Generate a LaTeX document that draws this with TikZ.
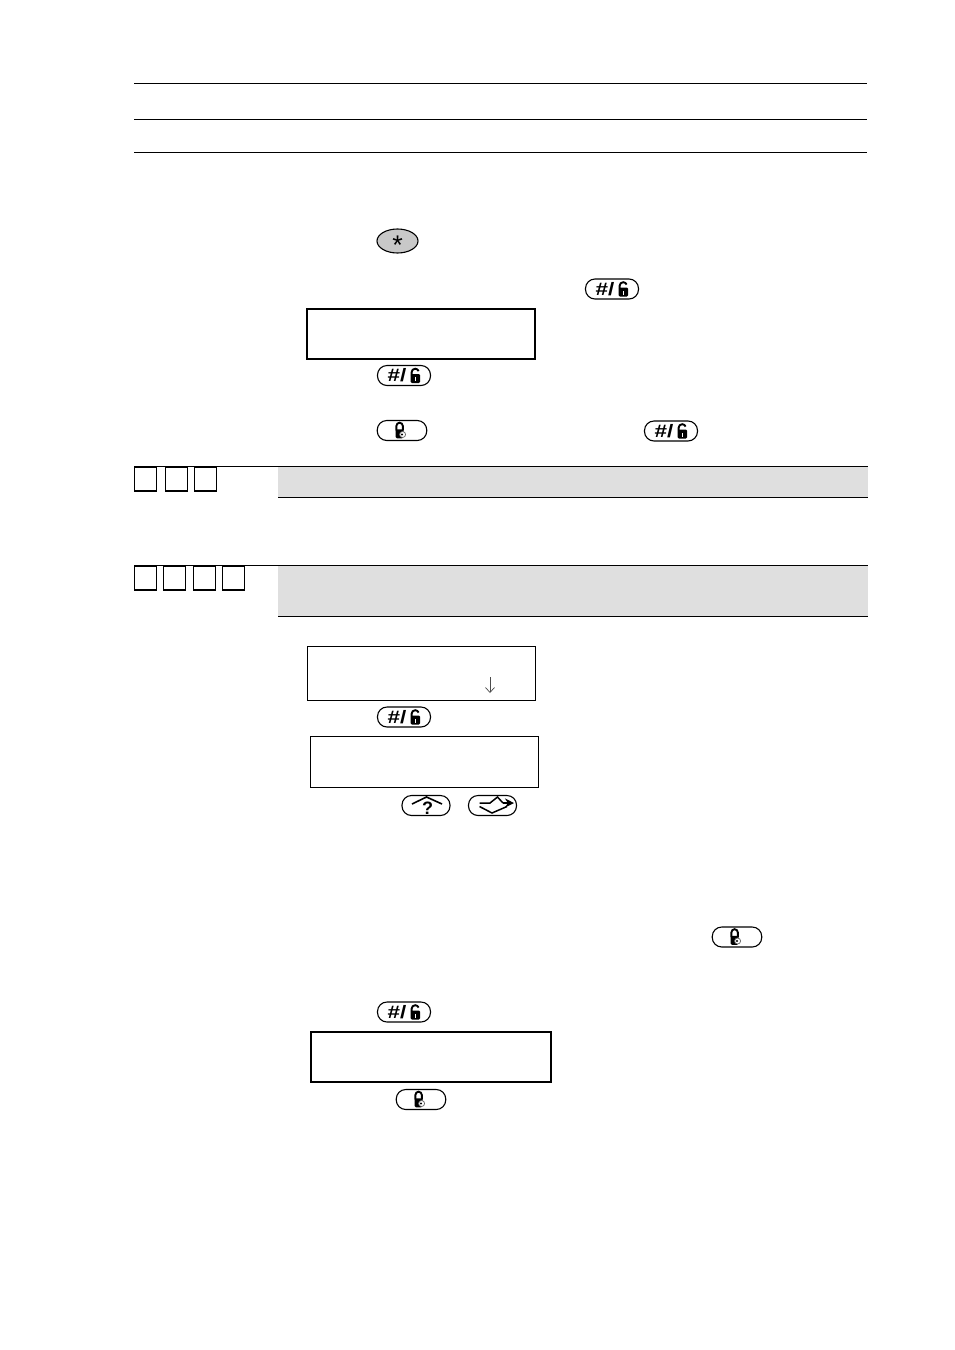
\documentclass[tikz,border=0pt]{standalone}
\usepackage{fontspec}
\setmainfont{Liberation Sans}
\usetikzlibrary{shapes.geometric,arrows.meta}
\definecolor{band}{HTML}{DFDFDF}
\definecolor{starfill}{HTML}{C8C8C8}
\tikzset{
  rulethin/.style={line width=0.9pt,black},
  keycap/.style={draw=black,line width=1.1pt,fill=white,rounded corners=9.5pt,minimum height=20pt,inner sep=0pt,outer sep=0pt},
  lcdthin/.style={draw=black,line width=1.1pt,fill=white,inner sep=0pt,outer sep=0pt,anchor=north west},
  lcdthick/.style={draw=black,line width=2pt,fill=white,inner sep=0pt,outer sep=0pt,anchor=north west},
  tick/.style={draw=black,line width=1.1pt,minimum width=22pt,minimum height=24pt,inner sep=0pt,outer sep=0pt,anchor=north west},
  bandbox/.style={fill=band,inner sep=0pt,outer sep=0pt,anchor=north west,minimum width=590pt},
}
% open-lock key: name, cx, cy
\newcommand{\hashkey}[3]{%
  \node[keycap,minimum width=53pt] (#1) at (#2,#3) {};
  \node[font=\bfseries\fontsize{18}{18}\selectfont,inner sep=0pt] (#1t) at ([xshift=-7pt,yshift=0pt]#1.center) {\scalebox{1.25}[1]{\#/}};
  \fill[black,rounded corners=1.2pt] ([xshift=6.7pt,yshift=-7.5pt]#1.center) rectangle ([xshift=16pt,yshift=1.5pt]#1.center);
  \draw[black,line width=1.9pt] ([xshift=7.6pt,yshift=0.5pt]#1.center) -- ([xshift=7.6pt,yshift=3.2pt]#1.center) arc[start angle=180,end angle=20,radius=3.6pt];
  \fill[white] ([xshift=10.5pt,yshift=-5.5pt]#1.center) rectangle ([xshift=12.2pt,yshift=-1.8pt]#1.center);
}
% closed-lock key: name, cx, cy
\newcommand{\lockkey}[3]{%
  \node[keycap,minimum width=49.5pt] (#1) at (#2,#3) {};
  \fill[black,rounded corners=1.5pt] ([xshift=-6.5pt,yshift=-7.8pt]#1.center) rectangle ([xshift=1.5pt,yshift=1.2pt]#1.center);
  \draw[black,line width=1.9pt] ([xshift=-5.6pt,yshift=0pt]#1.center) -- ([xshift=-5.6pt,yshift=4.6pt]#1.center) arc[start angle=180,end angle=0,radius=3.2pt] -- ([xshift=0.8pt,yshift=0pt]#1.center);
  \draw[black!60,line width=0.7pt,fill=white] ([xshift=0.6pt,yshift=-4pt]#1.center) circle[radius=3pt];
  \fill[black] ([xshift=0pt,yshift=-4pt]#1.center) circle[radius=1.2pt];
}
\begin{document}
\begin{tikzpicture}[x=1pt,y=-1pt]
\useasboundingbox[fill=white] (0,0) rectangle (954,1350);
% top rules
\coordinate (ra1) at (134,83.5);  \coordinate (ra2) at (867,83.5);
\coordinate (rb1) at (134,119.5); \coordinate (rb2) at (867,119.5);
\coordinate (rc1) at (134,152.5); \coordinate (rc2) at (867,152.5);
\draw[rulethin] (ra1) -- (ra2);
\draw[rulethin] (rb1) -- (rb2);
\draw[rulethin] (rc1) -- (rc2);
% star key
\node[draw=black,line width=1.1pt,fill=starfill,ellipse,minimum width=41pt,minimum height=24pt,inner sep=0pt] (star) at (397.5,241) {};
\node[font=\fontsize{27}{27}\selectfont,inner sep=0pt] (startxt) at (397.5,245) {*};
\hashkey{ha}{612}{289}
\node[lcdthick,minimum width=228pt,minimum height=50pt] (lcda) at (307,308.5) {};
\hashkey{hb}{404}{375.5}
\lockkey{la}{402}{430.5}
\hashkey{hc}{671}{431}
% band 1
\node[bandbox,minimum height=30pt] (banda) at (278,467) {};
\coordinate (s1l) at (134,466.5); \coordinate (s1r) at (868,466.5);
\draw[rulethin] (s1l) -- (s1r);
\coordinate (u1l) at (278,497.5); \coordinate (u1r) at (868,497.5);
\draw[rulethin] (u1l) -- (u1r);
\node[tick] (ta) at (134.5,467) {};
\node[tick] (tb) at (165.5,467) {};
\node[tick] (tc) at (194.5,467) {};
% band 2
\node[bandbox,minimum height=50pt] (bandb) at (278,566) {};
\coordinate (s2l) at (134,565.5); \coordinate (s2r) at (868,565.5);
\draw[rulethin] (s2l) -- (s2r);
\coordinate (u2l) at (278,616.5); \coordinate (u2r) at (868,616.5);
\draw[rulethin] (u2l) -- (u2r);
\node[tick] (td) at (134.5,566) {};
\node[tick] (te) at (163.5,566) {};
\node[tick] (tf) at (193.5,566) {};
\node[tick] (tg) at (222.5,566) {};
% displays
\node[lcdthin,minimum width=228pt,minimum height=54pt] (lcdb) at (307.5,646.5) {};
\coordinate (da) at (490,677); \coordinate (db) at (490,693);
\draw[black!70,line width=0.7pt,-{Straight Barb[length=5pt,width=9pt]}] (da) -- (db);
\hashkey{hd}{404}{717}
\node[lcdthin,minimum width=228pt,minimum height=51pt] (lcdc) at (310.5,736.5) {};
% question key
\node[keycap,minimum width=48pt] (qk) at (426,805.5) {};
\node[font=\bfseries\fontsize{18}{18}\selectfont,inner sep=0pt] (qt) at (427.5,808.5) {?};
\coordinate (qa) at (412,804); \coordinate (qb) at (426.5,797); \coordinate (qc) at (442,804);
\draw[black,line width=1.6pt] (qa) -- (qb) -- (qc);
% arrow key
\node[keycap,minimum width=48pt] (ak) at (492.5,805.5) {};
\coordinate (a1) at (479.5,803); \coordinate (a2) at (490,803); \coordinate (a3) at (497.5,797);
\coordinate (a4) at (503,803); \coordinate (a5) at (514,803);
\coordinate (a6) at (479.5,806.5); \coordinate (a7) at (492,813); \coordinate (a8) at (507,806.5);
\draw[black,line width=1.5pt] (a1) -- (a2) -- (a3) -- (a4);
\draw[black,line width=1.8pt,-{Stealth[length=9pt,width=9pt]}] (a4) -- (a5);
\draw[black,line width=1.5pt] (a6) -- (a7) -- (a8);
\lockkey{lb}{737}{937}
\hashkey{he}{404}{1012}
\node[lcdthick,minimum width=240pt,minimum height=50pt] (lcdd) at (311,1031.5) {};
\lockkey{lc}{421}{1099.5}
\end{tikzpicture}
\end{document}
